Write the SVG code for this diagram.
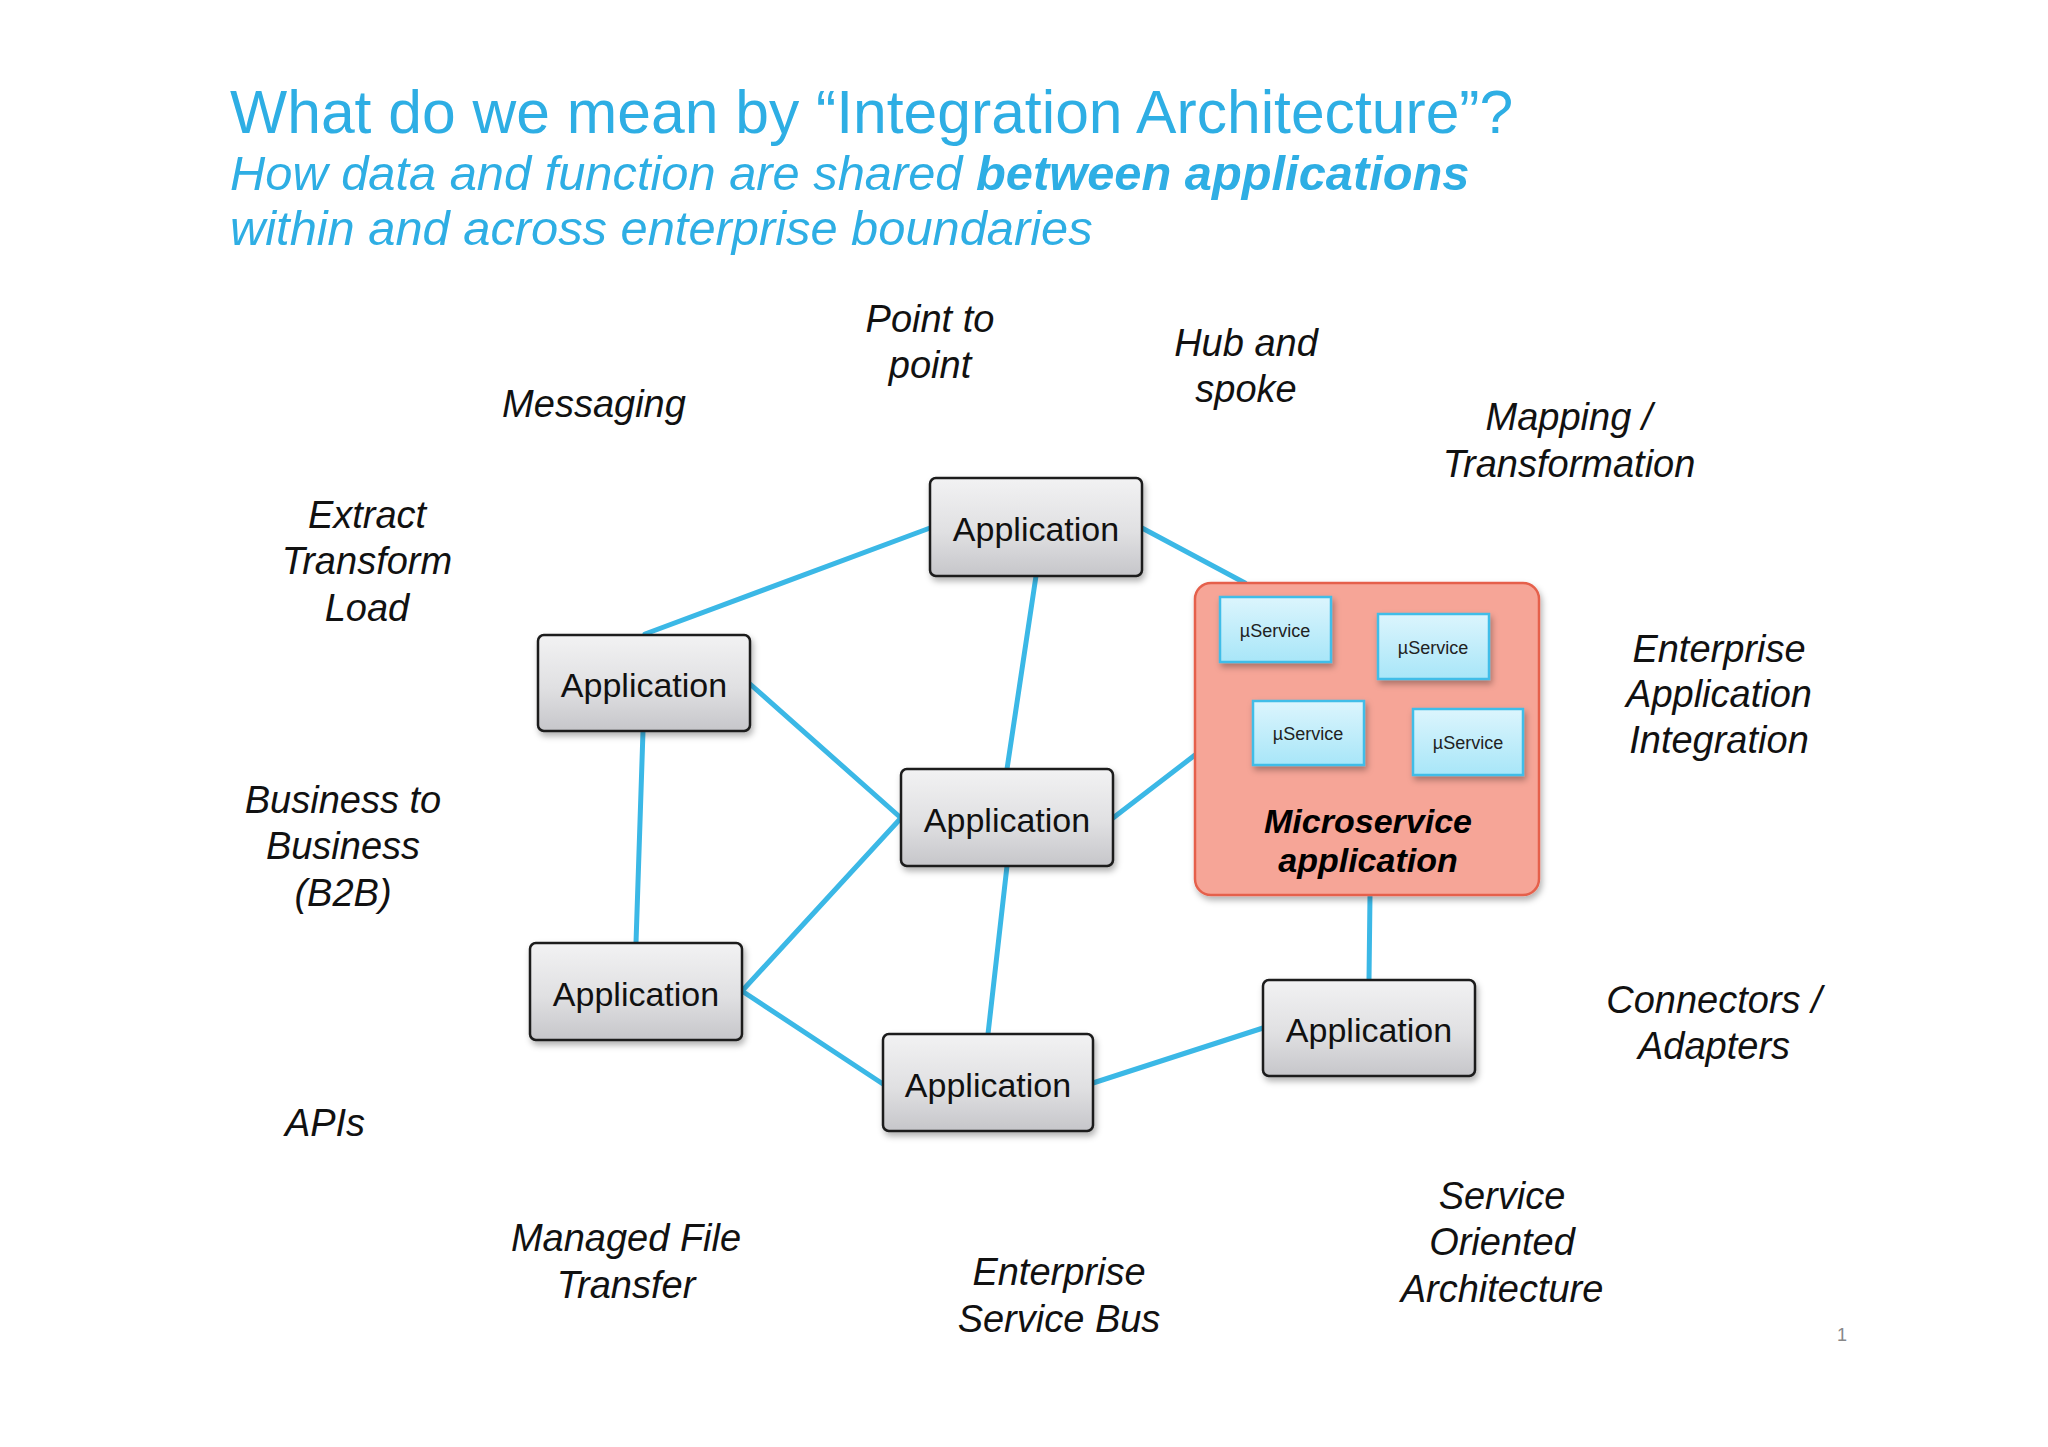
<svg xmlns="http://www.w3.org/2000/svg" width="2048" height="1447" viewBox="0 0 2048 1447">
<defs>
<linearGradient id="appGrad" x1="0" y1="0" x2="0" y2="1">
<stop offset="0" stop-color="#f2f2f3"/>
<stop offset="0.55" stop-color="#e0e0e2"/>
<stop offset="1" stop-color="#c6c6ca"/>
</linearGradient>
<linearGradient id="svcGrad" x1="0" y1="0" x2="0" y2="1">
<stop offset="0" stop-color="#dcf5fd"/>
<stop offset="1" stop-color="#a8e6f8"/>
</linearGradient>
<filter id="shadow" x="-10%" y="-10%" width="125%" height="130%">
<feDropShadow dx="2" dy="4" stdDeviation="3" flood-color="#000" flood-opacity="0.3"/>
</filter>
</defs>
<style>
.title{font-family:"Liberation Sans",Arial,sans-serif;fill:#2eaee4}
.lbl{font-family:"Liberation Sans",Arial,sans-serif;font-style:italic;font-size:38px;fill:#111;text-anchor:middle}
.app rect{fill:url(#appGrad);stroke:#1a1a1a;stroke-width:2.5}
.app text{font-family:"Liberation Sans",Arial,sans-serif;font-size:34px;fill:#111;text-anchor:middle}
.svc rect{fill:url(#svcGrad);stroke:#3fbde8;stroke-width:2.5}
.svc text{font-family:"Liberation Sans",Arial,sans-serif;font-size:18px;fill:#222;text-anchor:middle}
.conn line{stroke:#3bb8e6;stroke-width:5;stroke-linecap:round}
</style>
<rect width="2048" height="1447" fill="#ffffff"/>
<g id="title">
<text class="title" x="230" y="133" font-size="60.6">What do we mean by “Integration Architecture”?</text>
<text class="title" x="230" y="190" font-size="48.8" font-style="italic">How data and function are shared <tspan font-weight="bold">between applications</tspan></text>
<text class="title" x="230" y="245" font-size="48.8" font-style="italic">within and across enterprise boundaries</text>
</g>
<g id="labels">
<text class="lbl" x="930" y="332">Point to</text><text class="lbl" x="930" y="378">point</text>
<text class="lbl" x="1246" y="356">Hub and</text><text class="lbl" x="1246" y="402">spoke</text>
<text class="lbl" x="594" y="417">Messaging</text>
<text class="lbl" x="1569" y="430">Mapping /</text><text class="lbl" x="1569" y="477">Transformation</text>
<text class="lbl" x="367" y="528">Extract</text><text class="lbl" x="367" y="574">Transform</text><text class="lbl" x="367" y="621">Load</text>
<text class="lbl" x="1719" y="662">Enterprise</text><text class="lbl" x="1719" y="707">Application</text><text class="lbl" x="1719" y="753">Integration</text>
<text class="lbl" x="343" y="813">Business to</text><text class="lbl" x="343" y="859">Business</text><text class="lbl" x="343" y="906">(B2B)</text>
<text class="lbl" x="1714" y="1013">Connectors /</text><text class="lbl" x="1714" y="1059">Adapters</text>
<text class="lbl" x="325" y="1136">APIs</text>
<text class="lbl" x="1502" y="1209">Service</text><text class="lbl" x="1502" y="1255">Oriented</text><text class="lbl" x="1502" y="1302">Architecture</text>
<text class="lbl" x="626" y="1251">Managed File</text><text class="lbl" x="626" y="1298">Transfer</text>
<text class="lbl" x="1059" y="1285">Enterprise</text><text class="lbl" x="1059" y="1332">Service Bus</text>
<text x="1842" y="1341" font-family="Liberation Sans,Arial,sans-serif" font-size="18" fill="#888" text-anchor="middle">1</text>
</g>
<g id="connectors" class="conn">
<line x1="930" y1="528" x2="645" y2="634"/>
<line x1="1036" y1="576" x2="1007" y2="769"/>
<line x1="1142" y1="528" x2="1245" y2="583"/>
<line x1="750" y1="684" x2="901" y2="818"/>
<line x1="643" y1="731" x2="636" y2="943"/>
<line x1="742" y1="991" x2="901" y2="818"/>
<line x1="742" y1="991" x2="883" y2="1084"/>
<line x1="1007" y1="866" x2="988" y2="1034"/>
<line x1="1113" y1="818" x2="1195" y2="755"/>
<line x1="1093" y1="1083" x2="1263" y2="1028"/>
<line x1="1370" y1="895" x2="1369" y2="980"/>
</g>
<g id="app1" class="app"><rect x="930" y="478" width="212" height="98" rx="6" filter="url(#shadow)"/><text x="1036" y="541">Application</text></g>
<g id="app2" class="app"><rect x="538" y="635" width="212" height="96" rx="6" filter="url(#shadow)"/><text x="644" y="697">Application</text></g>
<g id="app3" class="app"><rect x="901" y="769" width="212" height="97" rx="6" filter="url(#shadow)"/><text x="1007" y="832">Application</text></g>
<g id="app4" class="app"><rect x="530" y="943" width="212" height="97" rx="6" filter="url(#shadow)"/><text x="636" y="1006">Application</text></g>
<g id="app5" class="app"><rect x="883" y="1034" width="210" height="97" rx="6" filter="url(#shadow)"/><text x="988" y="1097">Application</text></g>
<g id="app6" class="app"><rect x="1263" y="980" width="212" height="96" rx="6" filter="url(#shadow)"/><text x="1369" y="1042">Application</text></g>
<g id="microservice">
<rect x="1195" y="583" width="344" height="312" rx="16" fill="#f6a597" stroke="#e5604c" stroke-width="2.5" filter="url(#shadow)"/>
<text x="1368" y="833" font-family="Liberation Sans,Arial,sans-serif" font-size="34" font-weight="bold" font-style="italic" fill="#000" text-anchor="middle">Microservice</text>
<text x="1368" y="872" font-family="Liberation Sans,Arial,sans-serif" font-size="34" font-weight="bold" font-style="italic" fill="#000" text-anchor="middle">application</text>
</g>
<g id="svc1" class="svc"><rect x="1220" y="597" width="111" height="65" filter="url(#shadow)"/><text x="1275" y="637">µService</text></g>
<g id="svc2" class="svc"><rect x="1378" y="614" width="111" height="65" filter="url(#shadow)"/><text x="1433" y="654">µService</text></g>
<g id="svc3" class="svc"><rect x="1253" y="701" width="111" height="64" filter="url(#shadow)"/><text x="1308" y="740">µService</text></g>
<g id="svc4" class="svc"><rect x="1413" y="709" width="110" height="66" filter="url(#shadow)"/><text x="1468" y="749">µService</text></g>
</svg>
